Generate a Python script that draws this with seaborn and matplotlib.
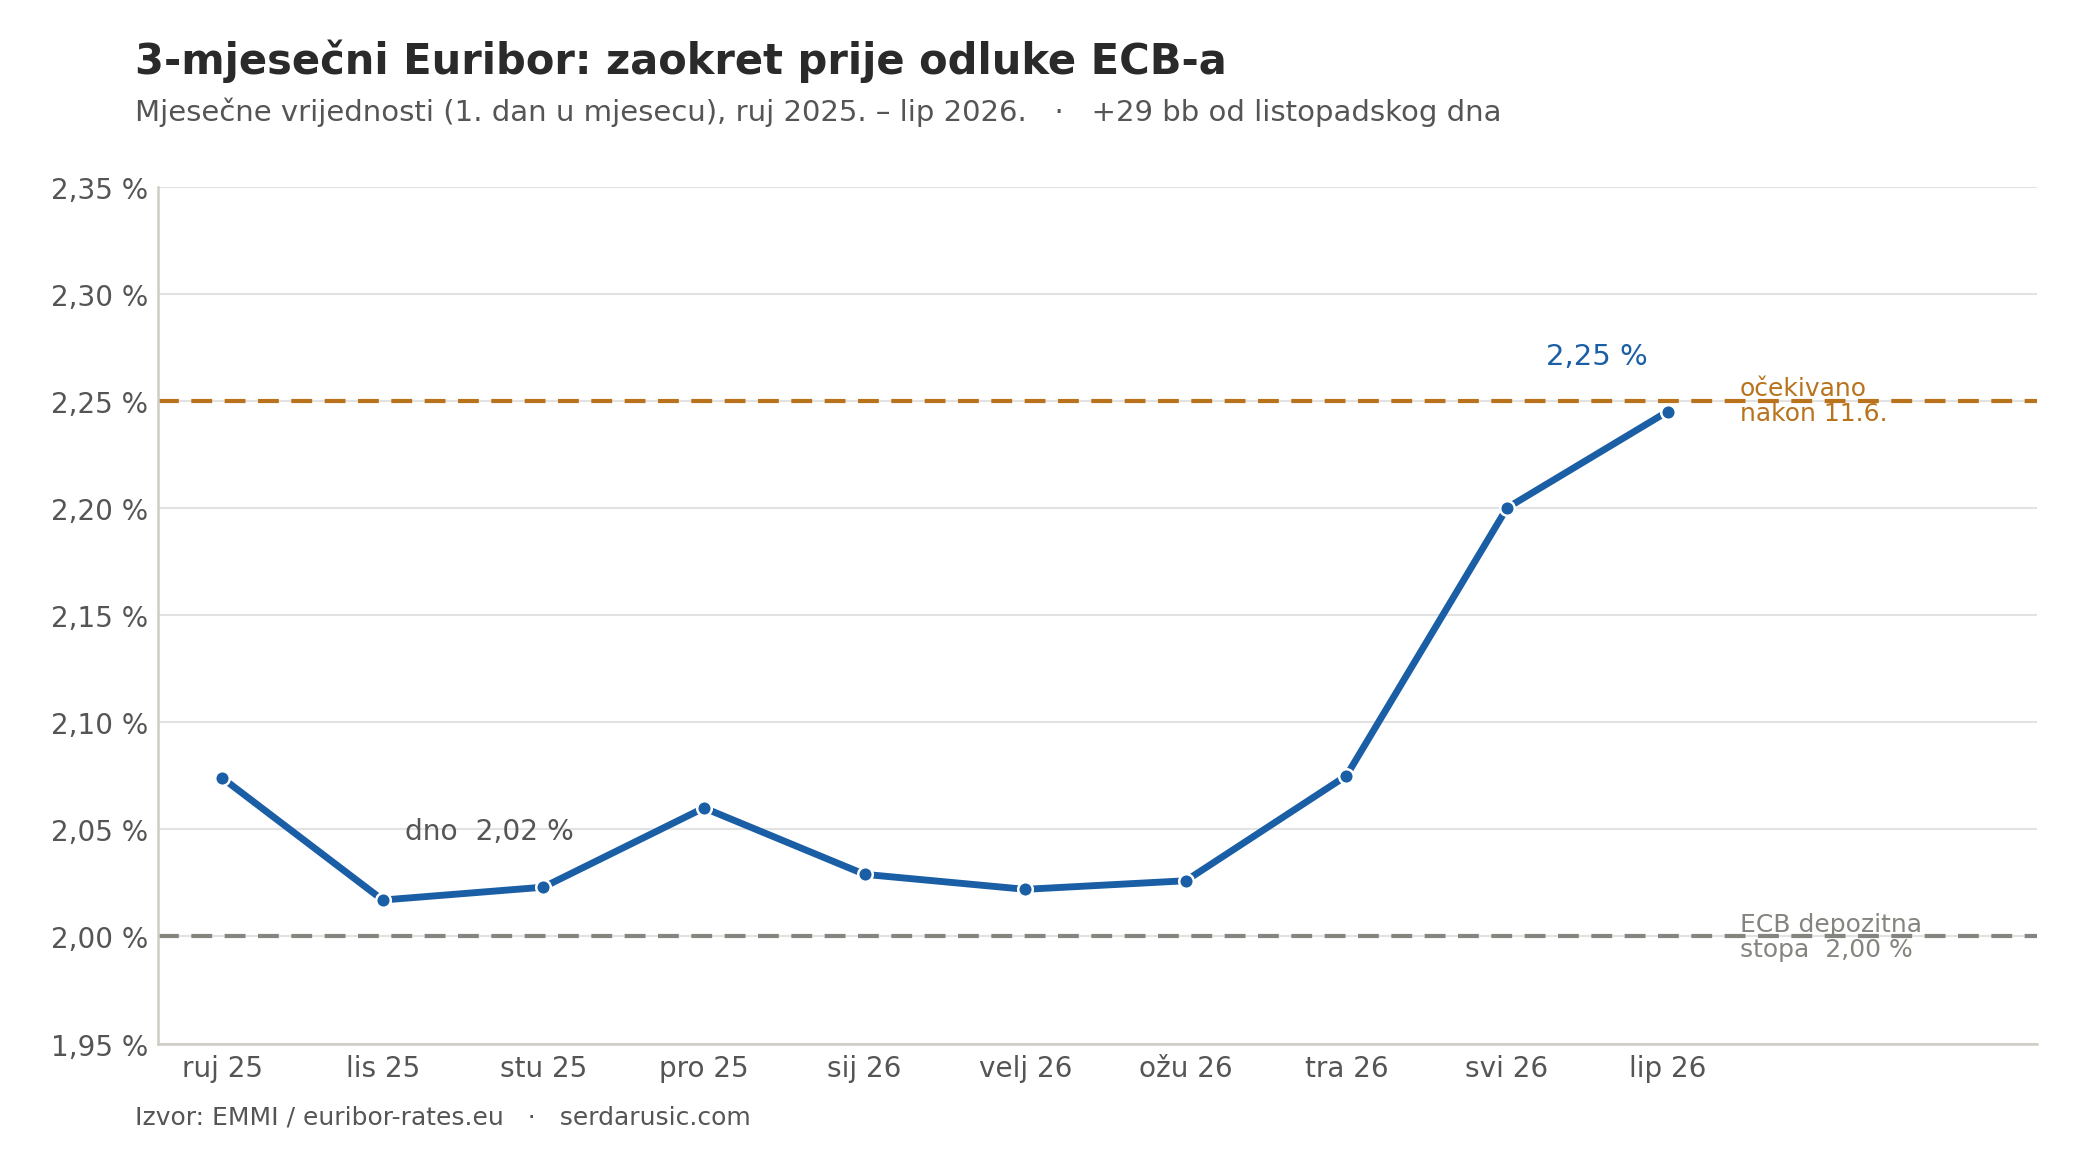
import pandas as pd
import matplotlib.pyplot as plt
import seaborn as sns
from matplotlib.ticker import FuncFormatter, MultipleLocator

# Monthly values (1st of month), 3M Euribor, %
months = ['ruj 25', 'lis 25', 'stu 25', 'pro 25', 'sij 26',
          'velj 26', 'ožu 26', 'tra 26', 'svi 26', 'lip 26']
rates = [2.074, 2.017, 2.023, 2.060, 2.029, 2.022, 2.026, 2.075, 2.200, 2.245]
ecb_rate = 2.00
expected_rate = 2.25

df = pd.DataFrame({'month': months, 'rate': rates})

sns.set_theme(style='white')
plt.rcParams['font.family'] = ['DejaVu Sans']

blue = '#1a5ea5'
orange = '#b8731c'
grey = '#85857f'

fig = plt.figure(figsize=(14, 7.7333), dpi=150)
ax = fig.add_axes([0.0752, 0.0995, 0.8948, 0.7388])

ax.yaxis.grid(True, color='#e2e2e2', linewidth=1.0)
ax.set_axisbelow(True)

ax.axhline(expected_rate, color=orange, linestyle=(0, (5, 3)), linewidth=2.0, zorder=2)
ax.axhline(ecb_rate, color=grey, linestyle=(0, (5, 3)), linewidth=2.0, zorder=2)

sns.lineplot(data=df, x='month', y='rate', ax=ax, color=blue, linewidth=3.3,
             marker='o', markersize=7, markeredgecolor='white', markeredgewidth=1.2,
             zorder=3, sort=False)

ax.set_ylim(1.95, 2.35)
ax.set_xlim(-0.4, 11.3)
ax.yaxis.set_major_locator(MultipleLocator(0.05))
ax.yaxis.set_major_formatter(FuncFormatter(lambda v, p: f'{v:.2f} %'.replace('.', ',')))
ax.set_xlabel('')
ax.set_ylabel('')
ax.tick_params(axis='both', labelsize=13.4, colors='#555555', length=0, pad=4.8)

for s in ['top', 'right']:
    ax.spines[s].set_visible(False)
for s in ['left', 'bottom']:
    ax.spines[s].set_color('#cfccc4')
    ax.spines[s].set_linewidth(1.2)

# annotations
ax.text(8.56, 2.271, '2,25 %', color=blue, fontsize=14, ha='center', va='center')
ax.text(1.14, 2.049, 'dno  2,02 %', color='#555555', fontsize=13.5, ha='left', va='center')
ax.text(9.45, 2.25, 'očekivano\nnakon 11.6.', color=orange, fontsize=12,
        ha='left', va='center', linespacing=1.05)
ax.text(9.45, 2.00, 'ECB depozitna\nstopa  2,00 %', color=grey, fontsize=12,
        ha='left', va='center', linespacing=1.05)

fig.text(0.0645, 0.947, '3-mjesečni Euribor: zaokret prije odluke ECB-a',
         fontsize=20, fontweight='bold', color='#2a2a2a', ha='left', va='center')
fig.text(0.0645, 0.903,
         'Mjesečne vrijednosti (1. dan u mjesecu), ruj 2025. – lip 2026.   ·   +29 bb od listopadskog dna',
         fontsize=14, color='#555555', ha='left', va='center')
fig.text(0.0645, 0.037, 'Izvor: EMMI / euribor-rates.eu   ·   serdarusic.com',
         fontsize=12, color='#555555', ha='left', va='center')

fig.savefig('out.png', dpi=150, facecolor='white')
plt.close(fig)
